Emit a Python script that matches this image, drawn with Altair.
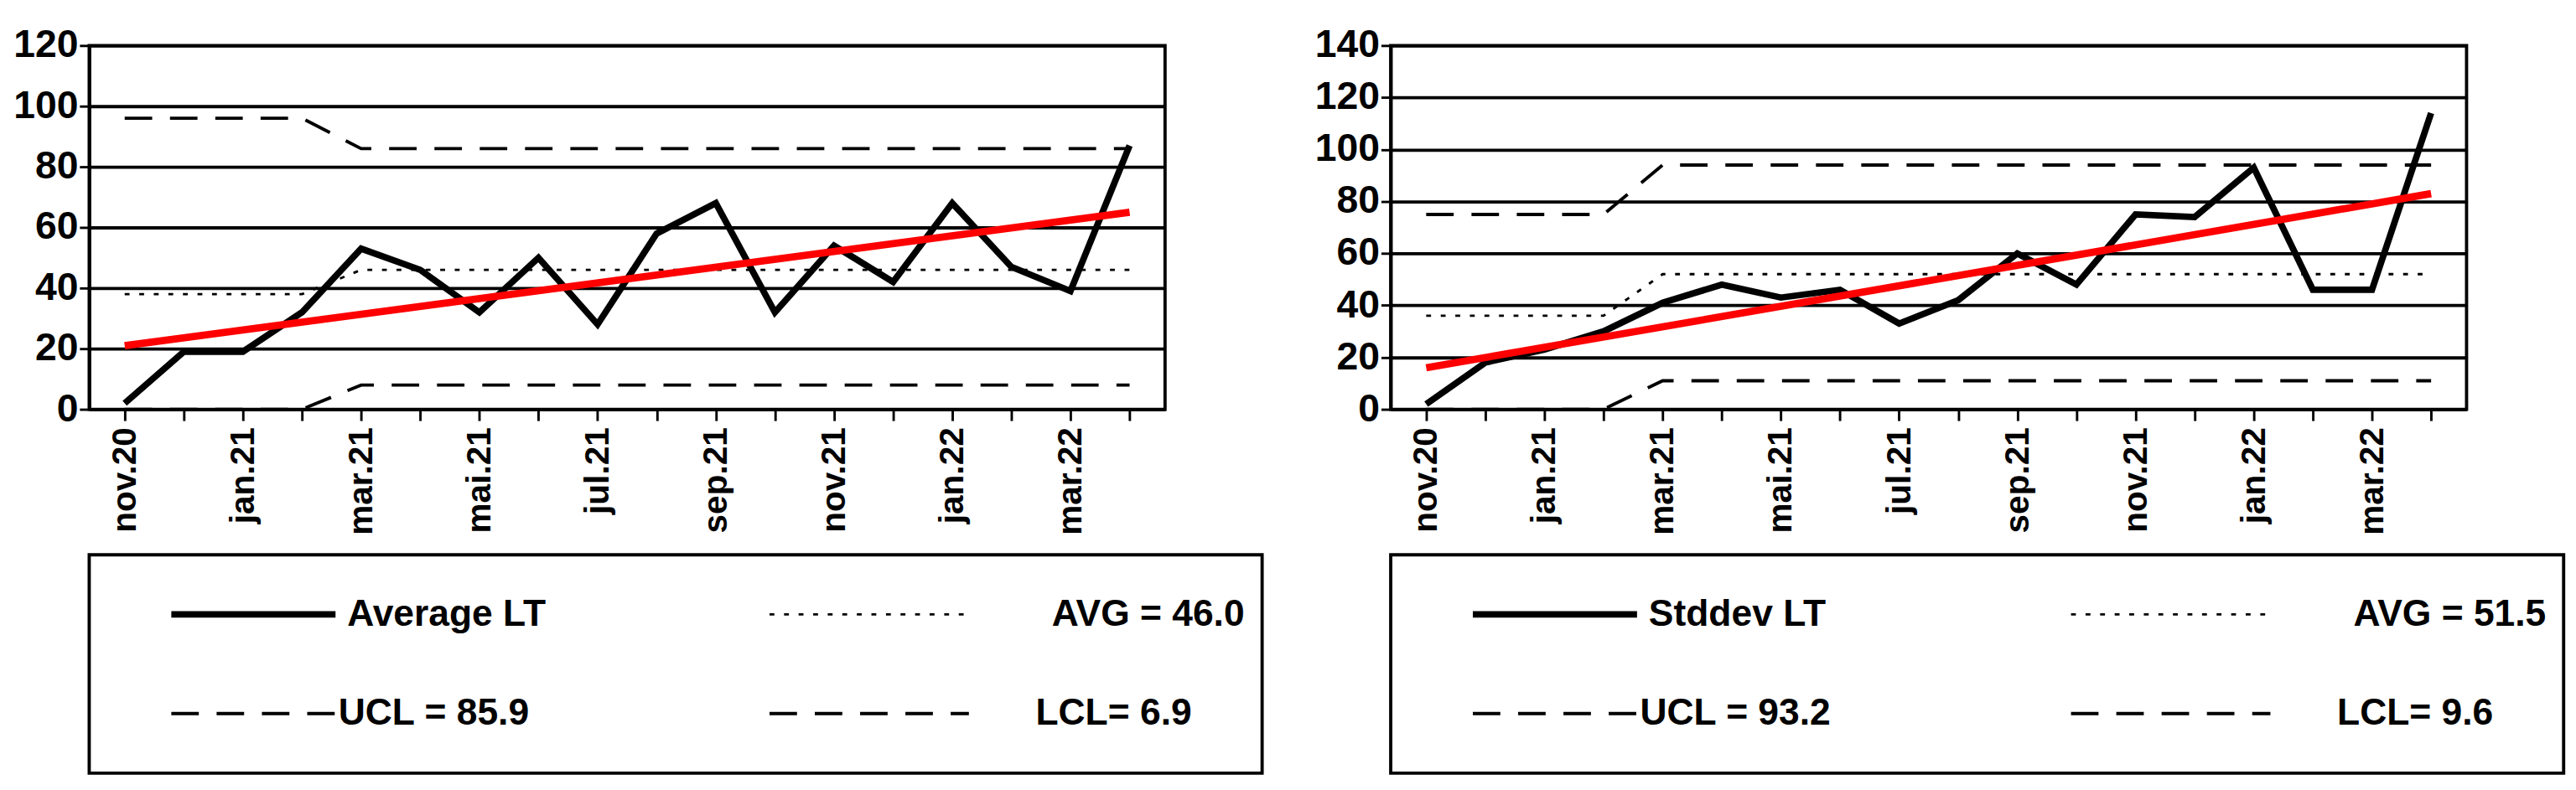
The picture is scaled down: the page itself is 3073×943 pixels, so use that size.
import altair as alt
import pandas as pd

months = ["nov.20", "dec.20", "jan.21", "feb.21", "mar.21", "apr.21", "mai.21", "jun.21",
          "jul.21", "aug.21", "sep.21", "oct.21", "nov.21", "dec.21", "jan.22", "feb.22",
          "mar.22", "apr.22"]

avg_lt = [2, 19, 19, 32, 53, 46, 32, 50, 28, 58, 68, 32, 54, 42, 68, 47, 39, 87]
avg_ucl = [96] * 4 + [86] * 14
avg_avg = [38] * 4 + [46] * 14
avg_lcl = [0] * 4 + [8] * 14
avg_trend = [21, 65]

std_lt = [2, 18, 23, 30, 41, 48, 43, 46, 33, 42, 60, 48, 75, 74, 93, 46, 46, 114]
std_ucl = [75] * 4 + [94] * 14
std_avg = [36] * 4 + [52] * 14
std_lcl = [0] * 4 + [11] * 14
std_trend = [16, 83]

FONT = "Liberation Sans"
label_expr = "datum.value % 2 == 0 ? " + str(months) + "[datum.value] : ''"


def panel(vals, ucl, avg, lcl, trend, ymax, step, labels):
    df = pd.DataFrame({"i": list(range(18)), "v": vals, "ucl": ucl, "avg": avg, "lcl": lcl})
    tr = pd.DataFrame({"i": [0, 17], "v": trend})
    x = alt.X("i:Q", scale=alt.Scale(domain=[-0.6, 17.6], nice=False),
              axis=alt.Axis(title=None, values=list(range(18)), labelExpr=label_expr,
                            labelAngle=-90, labelFontSize=42, labelFontWeight="bold",
                            labelFont=FONT, labelColor="black", grid=False,
                            domainColor="black", domainWidth=4, tickColor="black",
                            tickWidth=3, tickSize=14, labelPadding=8))
    ysc = alt.Scale(domain=[0, ymax], nice=False)
    yax = alt.Axis(title=None, values=list(range(0, ymax + 1, step)), labelFontSize=48,
                   labelFontWeight="bold", labelFont=FONT, labelColor="black",
                   gridColor="black", gridWidth=4, domainColor="black", domainWidth=4,
                   tickColor="black", tickWidth=3, tickSize=12)
    base = alt.Chart(df)
    grid = base.mark_line(opacity=0).encode(x=x, y=alt.Y("v:Q", scale=ysc, axis=yax))
    ucl_l = base.mark_line(color="black", strokeWidth=4, strokeDash=[34, 22]).encode(
        x="i:Q", y=alt.Y("ucl:Q", scale=ysc))
    lcl_l = base.mark_line(color="black", strokeWidth=4, strokeDash=[34, 22]).encode(
        x="i:Q", y=alt.Y("lcl:Q", scale=ysc))
    avg_l = base.mark_line(color="black", strokeWidth=3, strokeDash=[6, 12]).encode(
        x="i:Q", y=alt.Y("avg:Q", scale=ysc))
    main = base.mark_line(color="black", strokeWidth=8).encode(
        x="i:Q", y=alt.Y("v:Q", scale=ysc))
    trend_l = alt.Chart(tr).mark_line(color="red", strokeWidth=9).encode(
        x="i:Q", y=alt.Y("v:Q", scale=ysc))
    plot = alt.layer(grid, ucl_l, lcl_l, avg_l, main, trend_l).properties(
        width=1330, height=450)

    lg = pd.DataFrame({
        "x": [0.07, 0.58, 0.07, 0.58], "x2": [0.21, 0.75, 0.21, 0.75],
        "y": [1, 1, 0, 0], "dash": ["solid", "dot", "dash", "dash"],
        "tx": [0.22, 0.985, 0.375, 0.94], "al": ["l", "r", "r", "r"],
        "label": labels})
    lsc = alt.Scale(domain=[0, 1], nice=False)
    lx = alt.X("x:Q", scale=lsc, axis=None)
    ly = alt.Y("y:Q", scale=alt.Scale(domain=[-0.6, 1.6]), axis=None)
    lb = alt.Chart(lg)
    solid = lb.transform_filter("datum.dash == 'solid'").mark_rule(
        color="black", strokeWidth=8).encode(x=lx, x2="x2:Q", y=ly)
    dot = lb.transform_filter("datum.dash == 'dot'").mark_rule(
        color="black", strokeWidth=3, strokeDash=[6, 12]).encode(x=lx, x2="x2:Q", y=ly)
    dash = lb.transform_filter("datum.dash == 'dash'").mark_rule(
        color="black", strokeWidth=4, strokeDash=[34, 22]).encode(x=lx, x2="x2:Q", y=ly)
    tx = alt.X("tx:Q", scale=lsc, axis=None)
    txt_l = lb.transform_filter("datum.al == 'l'").mark_text(
        align="left", fontSize=46, fontWeight="bold", font=FONT, color="black").encode(
        x=tx, y=ly, text="label:N")
    txt_r = lb.transform_filter("datum.al == 'r'").mark_text(
        align="right", fontSize=46, fontWeight="bold", font=FONT, color="black").encode(
        x=tx, y=ly, text="label:N")
    legend = alt.layer(solid, dot, dash, txt_l, txt_r).properties(width=1450, height=270)
    return alt.vconcat(plot, legend, spacing=20)


left = panel(avg_lt, avg_ucl, avg_avg, avg_lcl, avg_trend, 120, 20,
             ["Average LT", "AVG = 46.0", "UCL = 85.9", "LCL= 6.9"])
right = panel(std_lt, std_ucl, std_avg, std_lcl, std_trend, 140, 20,
              ["Stddev LT", "AVG = 51.5", "UCL = 93.2", "LCL= 9.6"])

chart = alt.hconcat(left, right, spacing=60).configure(
    background="white", view=alt.ViewConfig(stroke="black", strokeWidth=4))
chart.save("out.html", embed_options={"renderer": "svg", "actions": False})
